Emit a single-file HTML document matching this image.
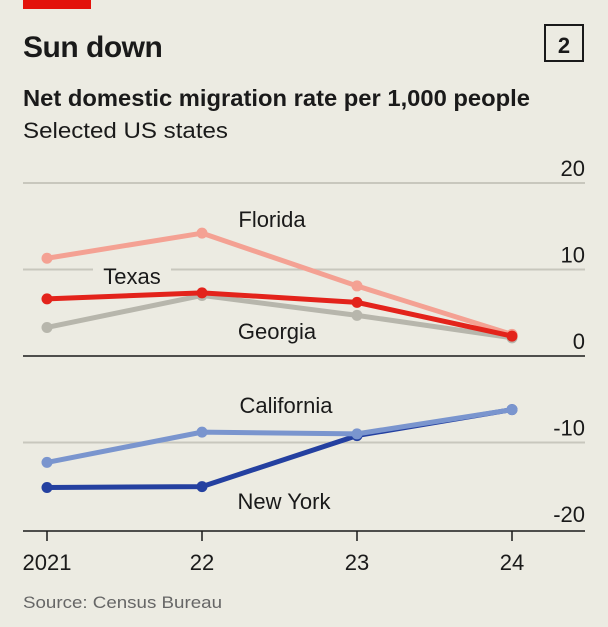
<!DOCTYPE html>
<html><head><meta charset="utf-8"><style>
body{margin:0;background:#ECEBE2;width:608px;height:627px;overflow:hidden;font-family:"Liberation Sans",sans-serif;}
</style></head><body>
<svg width="608" height="627" viewBox="0 0 608 627" style="display:block">
<rect x="0" y="0" width="608" height="627" fill="#ECEBE2"/>
<rect x="23" y="0" width="68" height="9" fill="#E3120B"/>
<text x="23" y="57" font-size="30" font-weight="bold" fill="#1a1a1a" style="letter-spacing:-0.5px">Sun down</text>
<rect x="545" y="25" width="38" height="36" fill="none" stroke="#1a1a1a" stroke-width="2"/>
<text x="564" y="53" font-size="22" font-weight="bold" text-anchor="middle" fill="#1a1a1a">2</text>
<text x="23" y="106" font-size="23" font-weight="bold" fill="#1a1a1a" textLength="507" lengthAdjust="spacingAndGlyphs">Net domestic migration rate per 1,000 people</text>
<text x="23" y="138" font-size="22" fill="#1a1a1a" textLength="205" lengthAdjust="spacingAndGlyphs">Selected US states</text>
<g id="grid"></g>
<g id="series"></g>
<g id="labels"></g>
<text x="23" y="608" font-size="17" fill="#666" textLength="199" lengthAdjust="spacingAndGlyphs">Source: Census Bureau</text>
</svg>
<script>
const years = ["2021","22","23","24"];
const yTicks = [20,10,0,-10,-20];
const florida = [11.3,14.2,8.1,2.5];
const texas = [6.6,7.3,6.2,2.3];
const georgia = [3.3,7.0,4.7,2.1];
const california = [-12.3,-8.8,-9.0,-6.2];
const newYork = [-15.2,-15.1,-9.2,-6.2];

const NS="http://www.w3.org/2000/svg";
const x = i => 47 + i*155;
const y = v => 356 - v*8.65;
function mk(tag, attrs, parent){const e=document.createElementNS(NS,tag);for(const k in attrs)e.setAttribute(k,attrs[k]);parent.appendChild(e);return e;}
const grid=document.getElementById('grid'), ser=document.getElementById('series'), lab=document.getElementById('labels');

yTicks.forEach(t=>{
  if(t!==0 && t!==-20){
    const l=mk('line',{x1:23,x2:585,y1:y(t),y2:y(t),stroke:'#C8C7BD','stroke-width':2},grid);
    
    
  }
  const tx=mk('text',{x:585,y:y(t)-7,'font-size':22,'text-anchor':'end',fill:'#1a1a1a'},grid);
  tx.textContent=t;
  
  
});
const zl=mk('line',{x1:23,x2:585,y1:y(0),y2:y(0),stroke:'#1a1a1a','stroke-width':1.5},grid);


const ax=mk('line',{x1:23,x2:585,y1:531,y2:531,stroke:'#1a1a1a','stroke-width':1.5},grid);


years.forEach((yr,i)=>{
  const tk=mk('line',{x1:x(i),x2:x(i),y1:531,y2:541,stroke:'#1a1a1a','stroke-width':1.5},grid);
  
  
  const t=mk('text',{x:x(i),y:570,'font-size':22,'text-anchor':'middle',fill:'#1a1a1a'},grid);
  t.textContent=yr;
  
  
});

function series(data,color,name){
  const pts=data.map((v,i)=>x(i)+','+y(v)).join(' ');
  const p=mk('polyline',{points:pts,fill:'none',stroke:color,'stroke-width':5,'stroke-linejoin':'round'},ser);
  
  
  data.forEach((v,i)=>{
    const c=mk('circle',{cx:x(i),cy:y(v),r:5.5,fill:color},ser);
    
    
  });
}
series(georgia,'#B7B6AC','georgia');
series(florida,'#F4A193','florida');
series(texas,'#E3231B','texas');
series(newYork,'#2440A0','new-york');
series(california,'#7A95CE','california');

const labels=[["Florida",272,227],["Georgia",277,339],["California",286,413],["New York",284,509]];
labels.forEach(l=>{
  const t=mk('text',{x:l[1],y:l[2],'font-size':22,'text-anchor':'middle',fill:'#1a1a1a'},lab);
  t.textContent=l[0];
  
  
});
const tb=mk('rect',{x:93,y:264,width:78,height:26,fill:'#ECEBE2'},lab);


const tt=mk('text',{x:132,y:284,'font-size':22,'text-anchor':'middle',fill:'#1a1a1a'},lab);
tt.textContent='Texas';


</script>
</body></html>
